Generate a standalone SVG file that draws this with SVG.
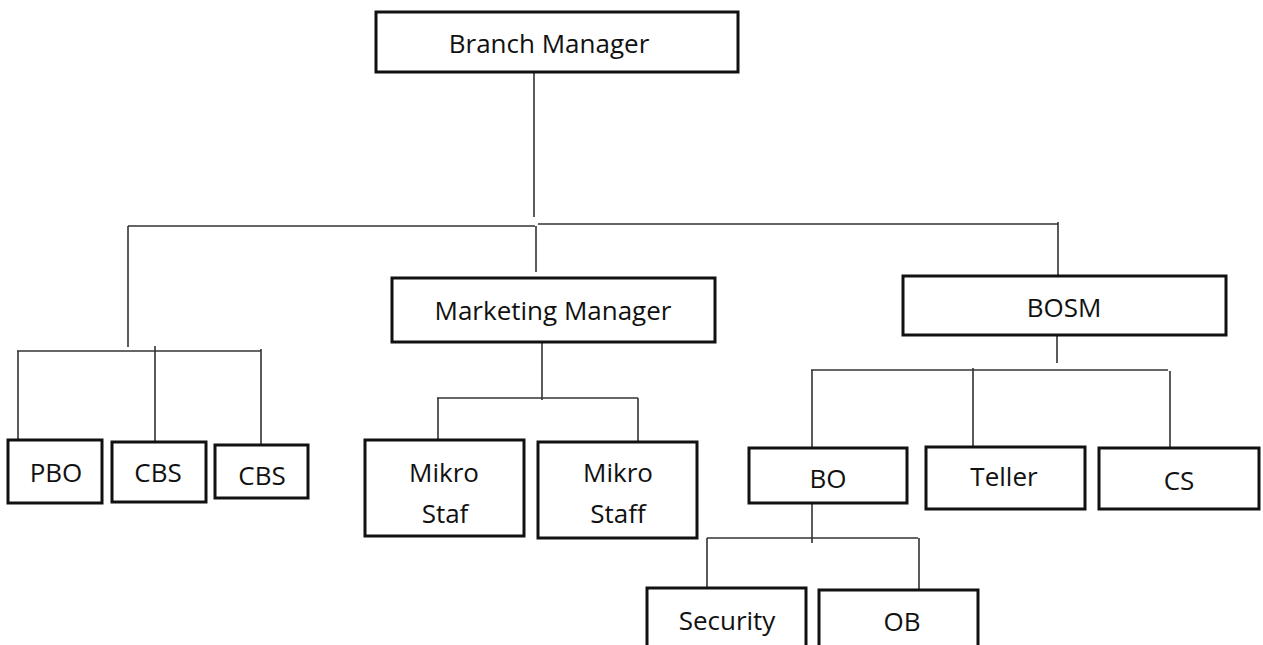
<svg xmlns="http://www.w3.org/2000/svg" width="1263" height="645" viewBox="0 0 1263 645">
<style>
.box{fill:#fff;stroke:#111;stroke-width:3}
.ln{fill:none;stroke:#333;stroke-width:1.6}
text{font-family:"Open Sans","Liberation Sans",sans-serif;font-size:26px;fill:#111;text-anchor:middle}
</style>
<rect width="1263" height="645" fill="#fff"/>
<g id="connectors">
<path class="ln" d="M534 72V217"/>
<path class="ln" d="M128 226H535M538 224H1058"/>
<path class="ln" d="M536 226V272"/>
<path class="ln" d="M1058 222V276"/>
<path class="ln" d="M128 226V347"/>
<path class="ln" d="M17 351H261"/>
<path class="ln" d="M18 351V440M155 346V442M261 349V445"/>
<path class="ln" d="M542 342V400"/>
<path class="ln" d="M437 398H638"/>
<path class="ln" d="M438 398V440M638 398V442"/>
<path class="ln" d="M1057 335V363"/>
<path class="ln" d="M811 370H1168"/>
<path class="ln" d="M812 370V448M973 368V447M1170 371V448"/>
<path class="ln" d="M812 499V543"/>
<path class="ln" d="M707 538H918"/>
<path class="ln" d="M707 538V588M919 538V590"/>
</g>
<g id="branch-manager"><rect class="box" x="376" y="12" width="362" height="60"/><text x="549" y="53">Branch Manager</text></g>
<g id="marketing-manager"><rect class="box" x="392" y="278" width="323" height="64"/><text x="553" y="320">Marketing Manager</text></g>
<g id="bosm"><rect class="box" x="903" y="276" width="323" height="59"/><text x="1064" y="317">BOSM</text></g>
<g id="pbo"><rect class="box" x="8" y="440" width="94" height="63"/><text x="56" y="482">PBO</text></g>
<g id="cbs1"><rect class="box" x="112" y="442" width="94" height="60"/><text x="158" y="482">CBS</text></g>
<g id="cbs2"><rect class="box" x="215" y="445" width="93" height="53"/><text x="262" y="485">CBS</text></g>
<g id="mikro-staf"><rect class="box" x="365" y="440" width="159" height="96"/><text x="444" y="482">Mikro</text><text x="445" y="523">Staf</text></g>
<g id="mikro-staff"><rect class="box" x="538" y="442" width="159" height="96"/><text x="618" y="482">Mikro</text><text x="618" y="523">Staff</text></g>
<g id="bo"><rect class="box" x="749" y="448" width="158" height="55"/><text x="828" y="488">BO</text></g>
<g id="teller"><rect class="box" x="926" y="447" width="159" height="62"/><text x="1004" y="486">Teller</text></g>
<g id="cs"><rect class="box" x="1099" y="448" width="160" height="61"/><text x="1179" y="490">CS</text></g>
<g id="security"><rect class="box" x="647" y="588" width="159" height="62"/><text x="727" y="630">Security</text></g>
<g id="ob"><rect class="box" x="819" y="590" width="159" height="60"/><text x="902" y="631">OB</text></g>
</svg>
